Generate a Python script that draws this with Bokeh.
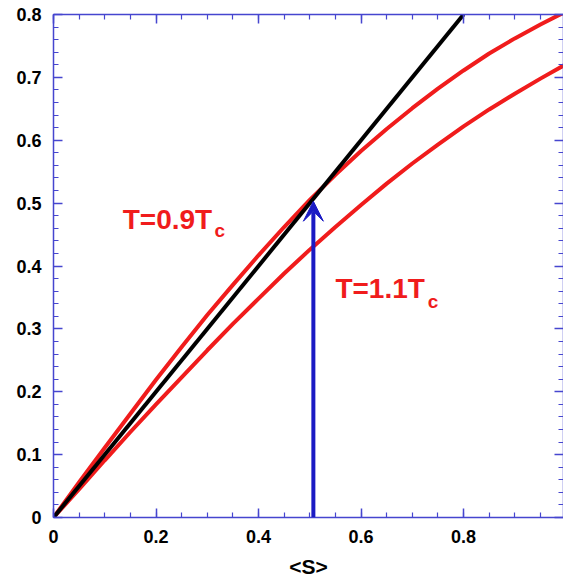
from bokeh.plotting import figure
from bokeh.models import (LinearAxis, FixedTicker, Arrow, VeeHead, Range1d, Label)
from bokeh.embed import file_html
from bokeh.resources import INLINE

# ---- data ----
s_values = [0.00, 0.05, 0.10, 0.15, 0.20, 0.25, 0.30, 0.35, 0.40, 0.45, 0.50,
            0.55, 0.60, 0.65, 0.70, 0.75, 0.80, 0.85, 0.90, 0.95, 1.00]
rhs_T09 = [0.000, 0.056, 0.111, 0.165, 0.219, 0.271, 0.322, 0.370, 0.417, 0.462, 0.505,
           0.545, 0.583, 0.618, 0.651, 0.682, 0.711, 0.738, 0.762, 0.784, 0.805]
rhs_T11 = [0.000, 0.045, 0.091, 0.136, 0.180, 0.223, 0.266, 0.308, 0.348, 0.388, 0.426,
           0.462, 0.497, 0.531, 0.563, 0.593, 0.622, 0.649, 0.674, 0.698, 0.721]
identity_x = [0.0, 0.8]
identity_y = [0.0, 0.8]
solution_S = 0.507
solution_M = 0.503

x_ticks = [0, 0.2, 0.4, 0.6, 0.8, 1.0]
x_tick_labels = ["0", "0.2", "0.4", "0.6", "0.8", "1"]
x_minor = [0.05 * i for i in range(21)]
y_ticks = [0, 0.1, 0.2, 0.3, 0.4, 0.5, 0.6, 0.7, 0.8]
y_tick_labels = ["0", "0.1", "0.2", "0.3", "0.4", "0.5", "0.6", "0.7", "0.8"]
y_minor = [0.02 * i for i in range(41)]
x_title = "<S>"

RED = "#f01c1c"
AXIS_BLUE = "#4646cf"
ARROW_BLUE = "#1a1ac4"
FONT = "Liberation Sans"

p = figure(frame_width=510, frame_height=503, output_backend="svg", toolbar_location=None,
           x_range=Range1d(0, 0.995), y_range=Range1d(0, 0.8),
           min_border_left=53, min_border_right=0, min_border_top=14, min_border_bottom=62,
           x_axis_label=x_title)
p.outline_line_color = None
p.xgrid.visible = False
p.ygrid.visible = False
p.background_fill_color = "white"
p.border_fill_color = "white"

def style(ax, ticks, minor, labels, show_labels):
    ax.ticker = FixedTicker(ticks=ticks, minor_ticks=minor)
    ax.axis_line_color = AXIS_BLUE
    ax.axis_line_width = 1.5
    ax.major_tick_line_color = AXIS_BLUE
    ax.minor_tick_line_color = AXIS_BLUE
    ax.major_tick_line_width = 1.5
    ax.minor_tick_line_width = 1.2
    ax.major_tick_in = 9
    ax.major_tick_out = 0
    ax.minor_tick_in = 5
    ax.minor_tick_out = 0
    if show_labels:
        ax.major_label_overrides = {t: l for t, l in zip(ticks, labels)}
        ax.major_label_text_font = FONT
        ax.major_label_text_font_style = "bold"
        ax.major_label_text_font_size = "18px"
        ax.major_label_text_color = "black"
        ax.major_label_standoff = 12
    else:
        ax.major_label_text_font_size = "1px"
        ax.major_label_text_color = None
        ax.major_label_standoff = 0

style(p.xaxis[0], x_ticks, x_minor, x_tick_labels, True)
style(p.yaxis[0], y_ticks, y_minor, y_tick_labels, True)
p.xaxis[0].axis_label_text_font = FONT
p.xaxis[0].axis_label_text_font_style = "bold"
p.xaxis[0].axis_label_text_font_size = "21px"
p.xaxis[0].axis_label_text_color = "black"
p.xaxis[0].axis_label_standoff = 9

top = LinearAxis()
style(top, x_ticks, x_minor, x_tick_labels, False)
p.add_layout(top, "above")
right = LinearAxis()
style(right, y_ticks, y_minor, y_tick_labels, False)
p.add_layout(right, "right")

p.line(s_values, rhs_T11, line_color=RED, line_width=4)
p.line(s_values, rhs_T09, line_color=RED, line_width=4)
p.line(identity_x, identity_y, line_color="black", line_width=4)

p.add_layout(Arrow(x_start=solution_S, y_start=0, x_end=solution_S, y_end=solution_M,
                   line_color=ARROW_BLUE, line_width=4,
                   end=VeeHead(size=20, fill_color=ARROW_BLUE, line_color=ARROW_BLUE, line_width=1)))

def label(x, y, txt, size):
    p.add_layout(Label(x=x, y=y, text=txt, text_font=FONT, text_font_style="bold",
                       text_font_size=size, text_color=RED, text_baseline="alphabetic",
                       text_align="left"))

label(0.135, 0.474, "T=0.9T", "28px")
label(0.314, 0.457, "c", "19px")
label(0.550, 0.365, "T=1.1T", "28px")
label(0.730, 0.343, "c", "19px")

open("out.html", "w").write(file_html(p, INLINE))
